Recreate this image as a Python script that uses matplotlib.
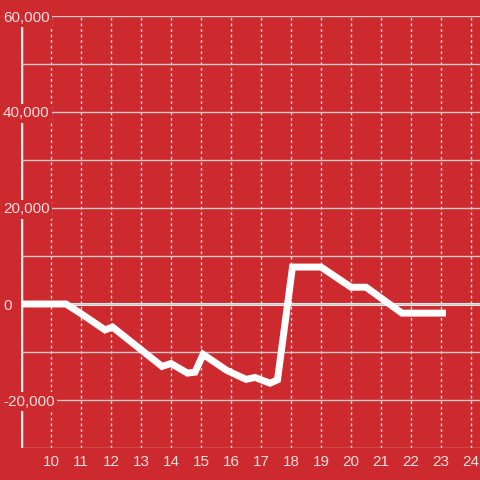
import matplotlib
matplotlib.use('Agg')
import matplotlib.pyplot as plt
from matplotlib.ticker import MultipleLocator, FuncFormatter

# values
hours = [9, 10.5, 11, 11.8, 12.05, 13.7, 14.0, 14.55, 14.8, 15.07, 15.85,
         16.5, 16.8, 17.3, 17.55, 18.05, 19.0, 19.5, 20.0, 20.5, 21.7, 23.05]
values = [0, 0, -2000, -5400, -4800, -13000, -12400, -14400, -14200, -10500, -13800,
          -15700, -15300, -16500, -15800, 7700, 7700, 5600, 3500, 3500, -1900, -1900]
x_ticks = list(range(10, 25))
y_ticks = [-20000, 0, 20000, 40000, 60000]

bg = '#cc2a2e'
txt = '#f3dede'

plt.rcParams['font.family'] = ['Liberation Sans', 'DejaVu Sans']

fig = plt.figure(figsize=(4.8, 4.8), dpi=100)
fig.patch.set_facecolor(bg)
ax = fig.add_axes([21 / 480, 32 / 480, 459 / 480, 432 / 480])
ax.set_facecolor(bg)
ax.set_axisbelow(True)

ax.set_xlim(9, 24.3)
ax.set_ylim(-30000, 60000)

for s in ax.spines.values():
    s.set_visible(False)

# left axis line, drawn under the tick labels
ax.axvline(9, color='#f4eeee', lw=2.5, zorder=0.3)
ax.axhline(0, color='#f7f1f1', lw=2.2, zorder=0.4)

ax.yaxis.set_minor_locator(MultipleLocator(10000))
ax.set_yticks(y_ticks)
ax.yaxis.set_major_formatter(FuncFormatter(lambda v, p: f'{int(v):,}'))
ax.set_xticks(x_ticks)

ax.grid(True, which='both', axis='y', color='#cfc8c8', lw=1)
ax.grid(True, which='major', axis='x', color='#e8dede', lw=1, linestyle=(0, (2, 2)))

ax.tick_params(axis='y', which='both', length=0, pad=13, labelcolor=txt, labelsize=11)
ax.tick_params(axis='x', length=0, pad=5, labelcolor=txt, labelsize=11)
for lab in ax.get_yticklabels():
    lab.set_horizontalalignment('left')
    lab.set_bbox(dict(facecolor=bg, edgecolor='none', pad=1.5))

ax.plot(hours, values, color='white', lw=5, zorder=3, solid_joinstyle='miter')

fig.savefig('out.png', dpi=100, facecolor=bg)
